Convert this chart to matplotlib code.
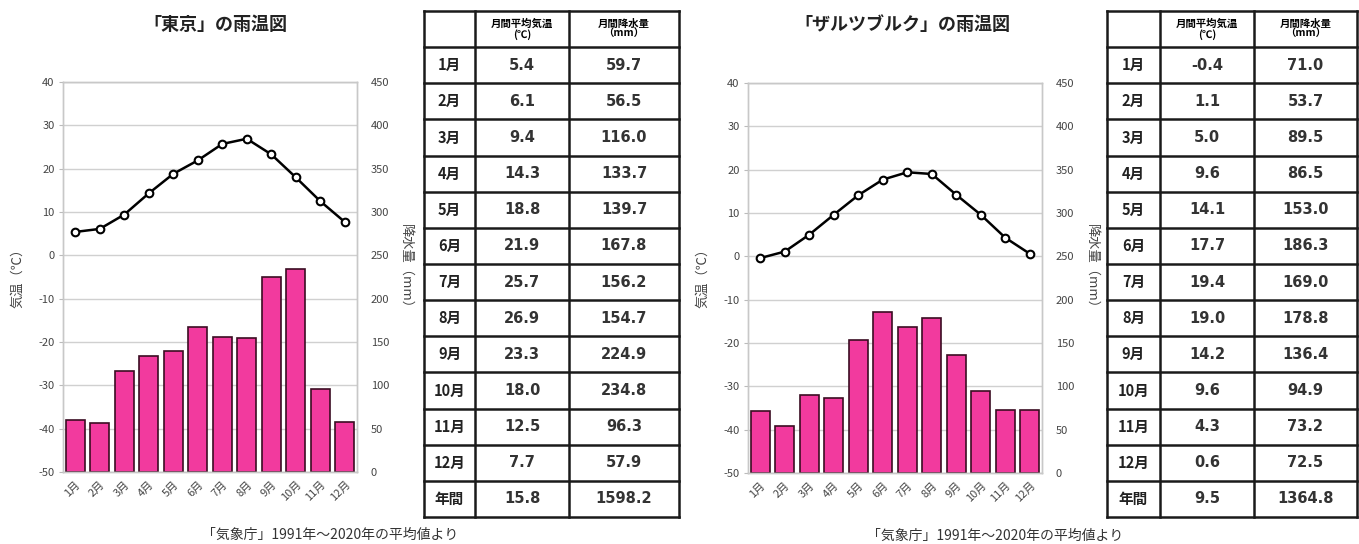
import matplotlib
matplotlib.use("Agg")
import matplotlib.pyplot as plt

plt.rcParams['font.family'] = ['Noto Sans CJK JP', 'DejaVu Sans']
plt.rcParams['axes.unicode_minus'] = False

# ================== データ ==================
months = ['1月', '2月', '3月', '4月', '5月', '6月', '7月', '8月', '9月', '10月', '11月', '12月']

tokyo_temp = [5.4, 6.1, 9.4, 14.3, 18.8, 21.9, 25.7, 26.9, 23.3, 18.0, 12.5, 7.7]
tokyo_prec = [59.7, 56.5, 116.0, 133.7, 139.7, 167.8, 156.2, 154.7, 224.9, 234.8, 96.3, 57.9]
tokyo_year = ['15.8', '1598.2']

salz_temp = [-0.4, 1.1, 5.0, 9.6, 14.1, 17.7, 19.4, 19.0, 14.2, 9.6, 4.3, 0.6]
salz_prec = [71.0, 53.7, 89.5, 86.5, 153.0, 186.3, 169.0, 178.8, 136.4, 94.9, 73.2, 72.5]
salz_year = ['9.5', '1364.8']

temp_ticks = list(range(-50, 41, 10))
prec_ticks = list(range(0, 451, 50))

W, H = 1359, 544
fig = plt.figure(figsize=(W / 100, H / 100), dpi=100)


def px_axes(x0, y0, x1, y1):
    # ピクセル座標(左上原点)からaxesを作る
    return fig.add_axes([x0 / W, (H - y1) / H, (x1 - x0) / W, (y1 - y0) / H])


def draw_chart(x0, x1, y0, y1, temp, prec, title, tx, lab_l, lab_r):
    ax2 = px_axes(x0, y0, x1, y1)
    ax = ax2.twinx()
    ax2.yaxis.tick_right()
    ax.yaxis.tick_left()
    ax.set_zorder(ax2.get_zorder() + 1)
    ax.patch.set_visible(False)

    x = list(range(12))
    ax2.bar(x, prec, width=0.76, color='#f23a9e', edgecolor='#3b0d22', linewidth=1.2, zorder=2)
    ax2.set_ylim(0, 450)
    ax2.set_yticks(prec_ticks)
    ax2.grid(axis='y', color='#d0d0d0', linewidth=1.0, zorder=0)
    ax2.set_axisbelow(True)
    ax2.tick_params(axis='y', length=0, pad=10, labelsize=8, labelcolor='#444444')

    ax.plot(x, temp, '-o', color='black', linewidth=1.8, markersize=5.5,
            markerfacecolor='white', markeredgecolor='black', markeredgewidth=1.5)
    ax.set_ylim(-50, 40)
    ax.set_yticks(temp_ticks)
    ax.tick_params(axis='y', length=3, color='#bbbbbb', pad=3, labelsize=8, labelcolor='#444444')

    ax2.set_xlim(-0.5, 11.5)
    ax2.set_xticks(x)
    ax2.set_xticklabels(months, rotation=45, ha='right', rotation_mode='anchor', fontsize=8, color='#444444')
    ax2.tick_params(axis='x', length=0, pad=5)
    ax.xaxis.set_visible(False)

    for a in (ax, ax2):
        for s in a.spines.values():
            s.set_color('#c8c8c8')
            s.set_linewidth(1.0)

    fig.text(tx / W, 1 - 24 / H, title, ha='center', va='center', fontsize=13, fontweight='bold', color='#222222')
    fig.text(lab_l / W, 1 - 275 / H, '気温（℃）', rotation=90, ha='center', va='center', fontsize=9.5, color='#444444')
    fig.text(lab_r / W, 1 - 270 / H, '降水量（mm）', rotation=270, ha='center', va='center', fontsize=9.5, color='#444444')


def draw_table(x0, x1, xc1, xc2, temp, prec, year):
    y0, y1 = 11, 517
    tax = px_axes(x0, y0, x1, y1)
    tax.set_xlim(x0, x1)
    tax.set_ylim(y1, y0)
    tax.axis('off')
    nrow = 14
    rh = (y1 - y0) / nrow
    for i in range(nrow + 1):
        tax.plot([x0, x1], [y0 + i * rh] * 2, color='#1a1a1a', linewidth=1.8, solid_capstyle='projecting', clip_on=False)
    for xv in (x0, xc1, xc2, x1):
        tax.plot([xv, xv], [y0, y1], color='#1a1a1a', linewidth=1.8, solid_capstyle='projecting', clip_on=False)

    m0, m1, m2 = (x0 + xc1) / 2, (xc1 + xc2) / 2, (xc2 + x1) / 2
    hy = y0 + rh / 2
    tax.text(m1, hy, '月間平均気温\n(℃)', ha='center', va='center', fontsize=7.5, fontweight='bold', linespacing=1.0)
    tax.text(m2, hy, '月間降水量\n（mm）', ha='center', va='center', fontsize=7.5, fontweight='bold', linespacing=1.0)

    rows = months + ['年間']
    tvals = ['%.1f' % v for v in temp] + [year[0]]
    pvals = ['%.1f' % v for v in prec] + [year[1]]
    for i in range(13):
        yy = y0 + (i + 1.5) * rh
        tax.text(m0, yy, rows[i], ha='center', va='center', fontsize=10.5, fontweight='bold', color='#222222')
        tax.text(m1, yy, tvals[i], ha='center', va='center', fontsize=10.5, fontweight='bold', color='#333333',
                 family=['DejaVu Sans', 'Noto Sans CJK JP'])
        tax.text(m2, yy, pvals[i], ha='center', va='center', fontsize=10.5, fontweight='bold', color='#333333',
                 family=['DejaVu Sans', 'Noto Sans CJK JP'])


draw_chart(63, 357, 82, 472, tokyo_temp, tokyo_prec, '「東京」の雨温図', 215, 18, 406)
draw_chart(748, 1042, 83, 473, salz_temp, salz_prec, '「ザルツブルク」の雨温図', 902, 703, 1092)

draw_table(424, 679, 475, 569, tokyo_temp, tokyo_prec, tokyo_year)
draw_table(1107, 1357, 1160, 1254, salz_temp, salz_prec, salz_year)

src = '「気象庁」1991年～2020年の平均値より'
fig.text(330 / W, 1 - 535 / H, src, ha='center', va='center', fontsize=10, color='#333333')
fig.text(995 / W, 1 - 536 / H, src, ha='center', va='center', fontsize=10, color='#333333')

fig.savefig('out.png', dpi=100)
